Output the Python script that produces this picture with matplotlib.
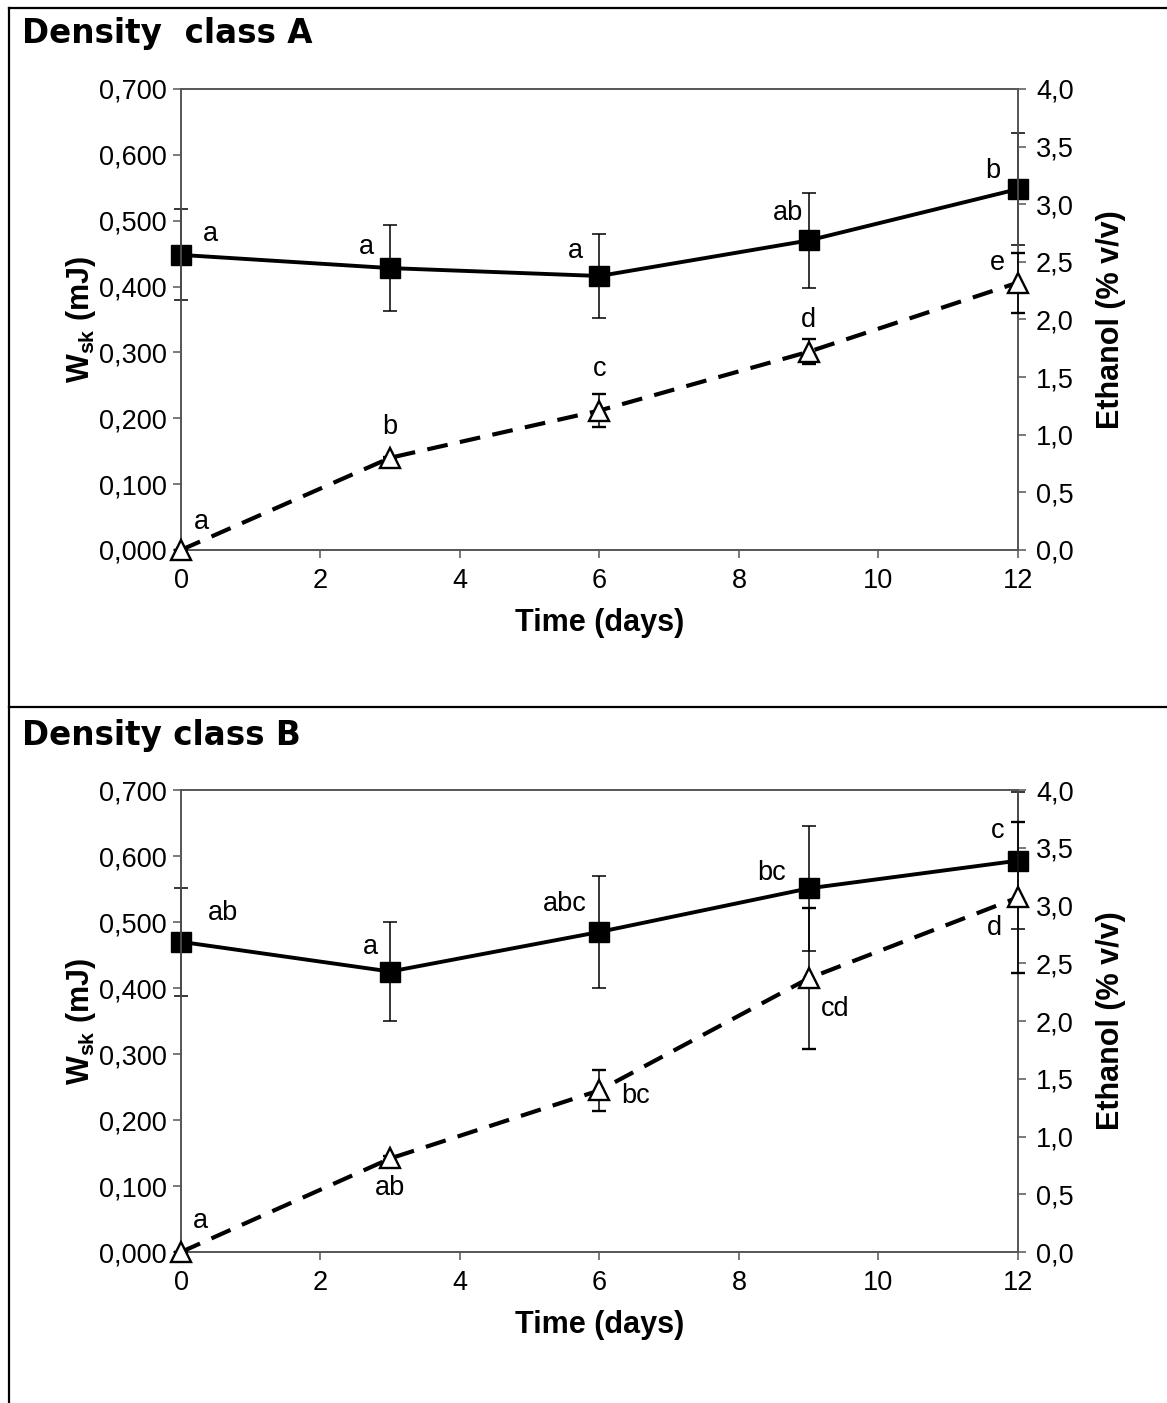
import matplotlib
matplotlib.use('Agg')
import matplotlib.pyplot as plt
from matplotlib.lines import Line2D
from matplotlib.ticker import FuncFormatter, MultipleLocator

plt.rcParams['font.family'] = ['Liberation Sans', 'DejaVu Sans']
plt.rcParams['mathtext.fontset'] = 'custom'
plt.rcParams['mathtext.bf'] = 'Liberation Sans:bold'
plt.rcParams['mathtext.rm'] = 'Liberation Sans:bold'
plt.rcParams['mathtext.default'] = 'bf'

# data
days = [0, 3, 6, 9, 12]

wsk_a = [0.448, 0.428, 0.416, 0.470, 0.548]
wsk_a_err = [0.069, 0.065, 0.064, 0.072, 0.085]
eth_a = [0.0, 0.80, 1.21, 1.72, 2.32]
eth_a_err = [0.0, 0.01, 0.14, 0.11, 0.26]
wsk_a_letters = ['a', 'a', 'a', 'ab', 'b']
eth_a_letters = ['a', 'b', 'c', 'd', 'e']

wsk_b = [0.470, 0.425, 0.485, 0.551, 0.593]
wsk_b_err = [0.082, 0.075, 0.085, 0.095, 0.104]
eth_b = [0.0, 0.81, 1.40, 2.37, 3.07]
eth_b_err = [0.0, 0.02, 0.18, 0.61, 0.65]
wsk_b_letters = ['ab', 'a', 'abc', 'bc', 'c']
eth_b_letters = ['a', 'ab', 'bc', 'cd', 'd']

# letter offsets (points) relative to each marker
wsk_a_off = [(21, 15), (-17, 15), (-17, 18), (-15, 20), (-18, 13)]
eth_a_off = [(15, 20), (0, 22), (0, 30), (0, 23), (-15, 14)]
wsk_b_off = [(30, 21), (-14, 18), (-25, 20), (-27, 11), (-15, 21)]
eth_b_off = [(14, 22), (0, -21), (26, -4), (19, -22), (-17, -22)]

spine_col = '#555555'
tick_fs = 19.5
lab_fs = 22

fig = plt.figure(figsize=(11.67, 14.03), dpi=100)


def panel(rect, title, title_y, wsk, wsk_err, eth, eth_err, wl, el, woff, eoff):
    ax = fig.add_axes(rect)
    ax2 = ax.twinx()

    ax.errorbar(days, wsk, yerr=wsk_err, color='black', lw=2.8, marker='s', ms=15,
                mfc='black', mec='black', ecolor='black', elinewidth=1.1,
                capsize=5, capthick=1.1, clip_on=False, zorder=3)
    ax2.errorbar(days, eth, yerr=eth_err, color='black', lw=3, dashes=(5, 3),
                 marker='^', ms=15, mfc='white', mec='black', mew=1.7,
                 ecolor='black', elinewidth=1.1, capsize=5, capthick=1.1,
                 clip_on=False, zorder=3)

    for d, v, s, o in zip(days, wsk, wl, woff):
        ax.annotate(s, (d, v), xytext=o, textcoords='offset points',
                    ha='center', va='center', fontsize=tick_fs)
    for d, v, s, o in zip(days, eth, el, eoff):
        ax2.annotate(s, (d, v), xytext=o, textcoords='offset points',
                     ha='center', va='center', fontsize=tick_fs)

    ax.set_xlim(0, 12)
    ax.set_ylim(0, 0.7)
    ax2.set_ylim(0, 4.0)
    ax.xaxis.set_major_locator(MultipleLocator(2))
    ax.yaxis.set_major_locator(MultipleLocator(0.1))
    ax2.yaxis.set_major_locator(MultipleLocator(0.5))
    ax.yaxis.set_major_formatter(FuncFormatter(lambda v, p: f'{v:.3f}'.replace('.', ',')))
    ax2.yaxis.set_major_formatter(FuncFormatter(lambda v, p: f'{v:.1f}'.replace('.', ',')))

    for a in (ax, ax2):
        for sp in a.spines.values():
            sp.set_color(spine_col)
            sp.set_linewidth(1.2)
        a.tick_params(direction='out', length=6, width=1.1, color=spine_col,
                      labelsize=tick_fs, labelcolor='black')
    ax.tick_params(axis='x', pad=7)
    ax.tick_params(axis='y', pad=4)
    ax2.tick_params(axis='y', pad=7)

    ax.set_xlabel('Time (days)', fontsize=lab_fs, fontweight='bold', labelpad=10)
    ax.set_ylabel(r'W$_{sk}$ (mJ)', fontsize=lab_fs, fontweight='bold', labelpad=1)
    ax2.set_ylabel('Ethanol (% v/v)', fontsize=lab_fs, fontweight='bold', labelpad=16)

    fig.text(22 / 1167, title_y, title, fontsize=23.5, fontweight='bold',
             family='DejaVu Sans', ha='left', va='center')


panel([0.1551, 0.6080, 0.7172, 0.3286], 'Density  class A', 1 - 33 / 1403,
      wsk_a, wsk_a_err, eth_a, eth_a_err, wsk_a_letters, eth_a_letters,
      wsk_a_off, eth_a_off)
panel([0.1551, 0.1076, 0.7172, 0.3293], 'Density class B', 1 - 735 / 1403,
      wsk_b, wsk_b_err, eth_b, eth_b_err, wsk_b_letters, eth_b_letters,
      wsk_b_off, eth_b_off)

# outer frame and divider
for xs, ys in [([9 / 1167, 9 / 1167], [0, 1 - 8 / 1403]),
               ([9 / 1167, 1], [1 - 8 / 1403, 1 - 8 / 1403]),
               ([9 / 1167, 1], [1 - 707 / 1403, 1 - 707 / 1403])]:
    fig.add_artist(Line2D(xs, ys, color='black', lw=1.6))

fig.savefig('out.png', dpi=100)
plt.close()
